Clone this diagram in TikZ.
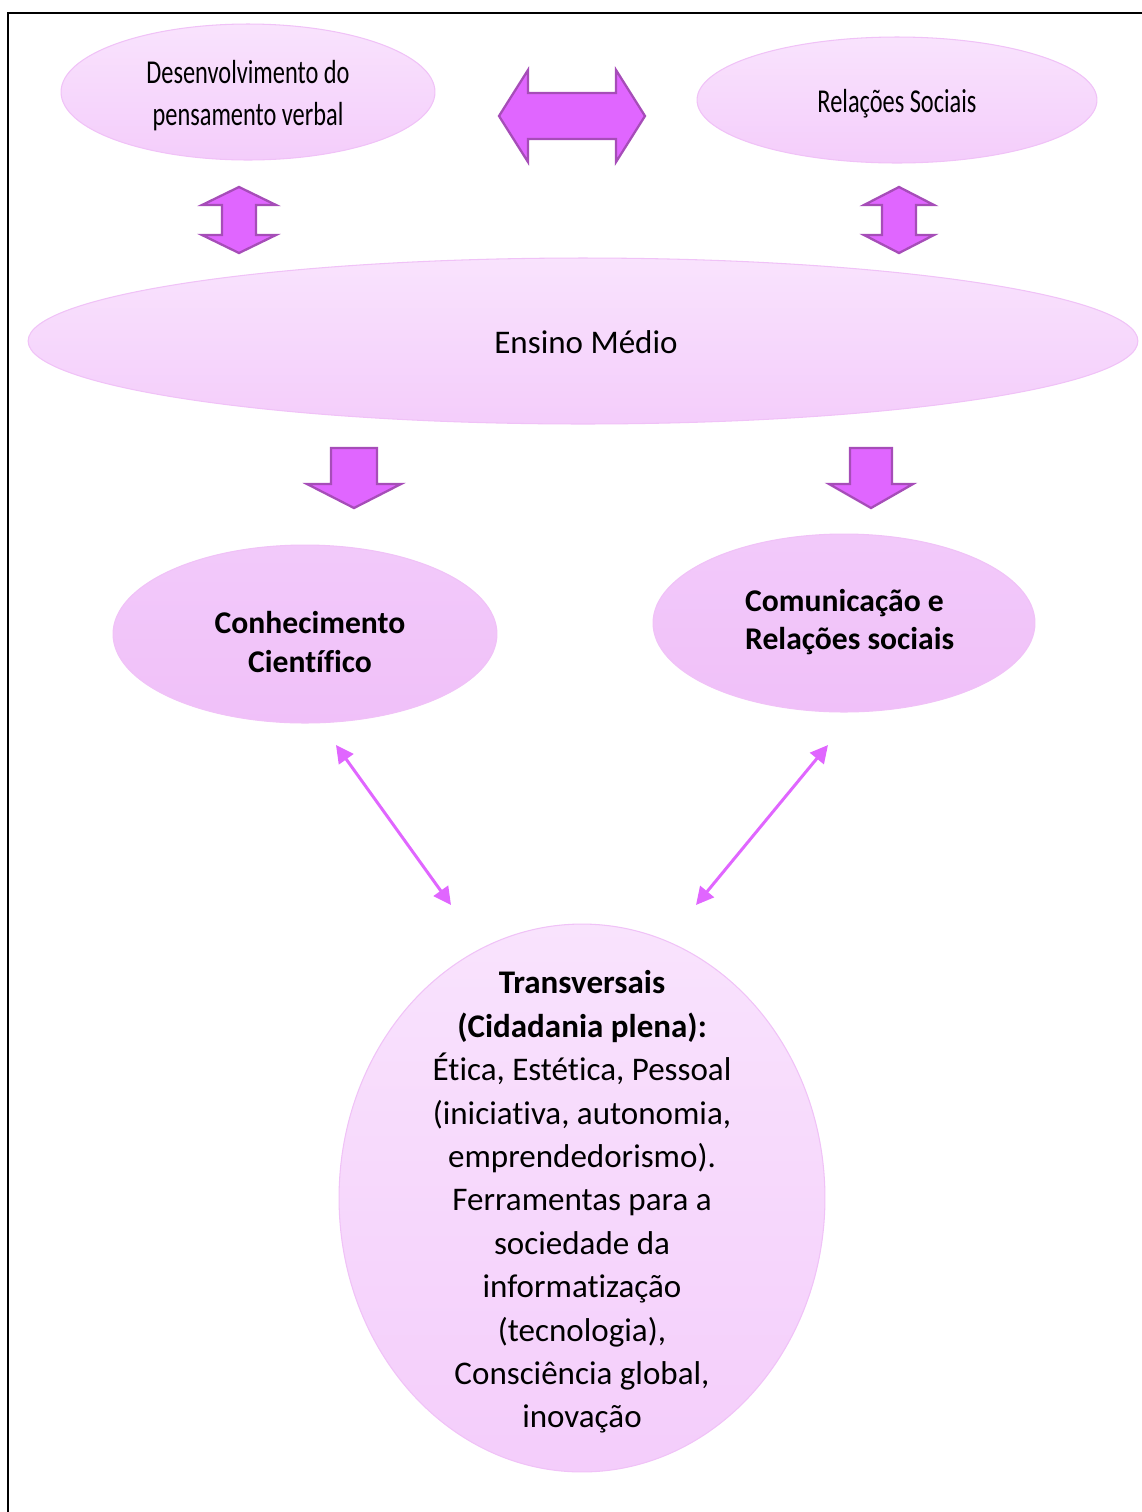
\documentclass[tikz,border=0pt]{standalone}
\usepackage{fontspec}
\setmainfont[Ligatures=NoCommon]{Carlito}
\newfontfamily\narrowfont[FakeStretch=0.73]{Carlito}
\usetikzlibrary{shapes.geometric,arrows.meta}

\definecolor{arrowfill}{HTML}{E066FF}
\definecolor{arrowedge}{HTML}{A64DB8}
\definecolor{bubbletop}{HTML}{F9E3FD}
\definecolor{bubblebot}{HTML}{F4CDFB}
\definecolor{bubbleedge}{HTML}{F0C2F7}
\definecolor{strongpink}{HTML}{F0C0F9}

\tikzset{
  bubble/.style={ellipse, draw=bubbleedge, line width=0.6pt, top color=bubbletop, bottom color=bubblebot, inner sep=0pt},
  strongbubble/.style={ellipse, draw=bubbleedge, line width=0.6pt, top color=strongpink!85!white, bottom color=strongpink, inner sep=0pt},
  label/.style={align=center, font=\fontsize{18.8}{24.7}\selectfont},
  boldlabel/.style={font=\fontsize{18}{22}\selectfont\bfseries},
  narrowlabel/.style={align=center, font=\fontsize{19}{24}\selectfont\narrowfont},
  blockarrow/.style={fill=arrowfill, draw=arrowedge, line width=1.3pt, line join=miter},
  link/.style={draw=arrowfill, line width=1.7pt, {Triangle[length=10pt,width=10pt]}-{Triangle[length=10pt,width=10pt]}}
}

\begin{document}
\begin{tikzpicture}[x=0.02cm,y=-0.02cm]
  \useasboundingbox (0,0) rectangle (1142,1512);

  % frame
  \draw[line width=1.6pt] (8,1512) -- (8,13) -- (1142,13);

  % top row
  \node[bubble, minimum width=7.48cm, minimum height=2.72cm] (dv) at (248,92) {};
  \node[narrowlabel] (dvtext) at (248,96) {Desenvolvimento do\\pensamento verbal};
  \node[bubble, minimum width=8.0cm, minimum height=2.52cm] (rs) at (897,100) {};
  \node[narrowlabel] (rstext) at (897,104) {Relações Sociais};

  \draw[blockarrow] (499,116) -- (528,70) -- (528,93) -- (616,93) -- (616,70) -- (645,116)
    -- (616,162) -- (616,139) -- (528,139) -- (528,162) -- cycle;

  \begin{scope}[shift={(239,220)}]
  \draw[blockarrow] (0,-33) -- (37,-15) -- (17,-15) -- (17,15) -- (37,15) -- (0,33)
    -- (-37,15) -- (-17,15) -- (-17,-15) -- (-37,-15) -- cycle;
  \end{scope}
  \begin{scope}[shift={(899,220)}]
  \draw[blockarrow] (0,-33) -- (35,-15) -- (17,-15) -- (17,15) -- (35,15) -- (0,33)
    -- (-35,15) -- (-17,15) -- (-17,-15) -- (-35,-15) -- cycle;
  \end{scope}

  % middle
  \node[bubble, minimum width=22.2cm, minimum height=3.32cm] (em) at (583,341) {};
  \node[label] (emtext) at (586,342) {Ensino Médio};

  \begin{scope}[shift={(354,448)}]
  \draw[blockarrow] (-23,0) -- (23,0) -- (23,36) -- (47,36) -- (0,60) -- (-47,36) -- (-23,36) -- cycle;
  \end{scope}
  \begin{scope}[shift={(871,448)}]
  \draw[blockarrow] (-21,0) -- (21,0) -- (21,36) -- (42,36) -- (0,60) -- (-42,36) -- (-21,36) -- cycle;
  \end{scope}

  \node[strongbubble, minimum width=7.68cm, minimum height=3.56cm] (ck) at (305,634) {};
  \node[boldlabel, align=center] (cktext) at (310,642) {Conhecimento\\Científico};
  \node[strongbubble, minimum width=7.64cm, minimum height=3.56cm] (cr) at (844,623) {};
  \node[boldlabel, align=left, anchor=west] (crtext) at (739,622) {Comunicação e\\Relações sociais};

  % bottom
  \node[bubble, minimum width=9.72cm, minimum height=10.96cm] (tv) at (582,1198) {};
  \node[label] (tvtext) at (582,1202) {\textbf{Transversais}\\\textbf{(Cidadania plena):}\\Ética, Estética, Pessoal\\(iniciativa, autonomia,\\emprendedorismo).\\Ferramentas para a\\sociedade da\\informatização\\(tecnologia),\\Consciência global,\\inovação};

  \coordinate (ckout) at (336,745);
  \coordinate (crout) at (828,745);
  \coordinate (tvleft) at (451,905);
  \coordinate (tvright) at (696,905);
  \draw[link] (ckout) -- (tvleft);
  \draw[link] (crout) -- (tvright);
\end{tikzpicture}
\end{document}
